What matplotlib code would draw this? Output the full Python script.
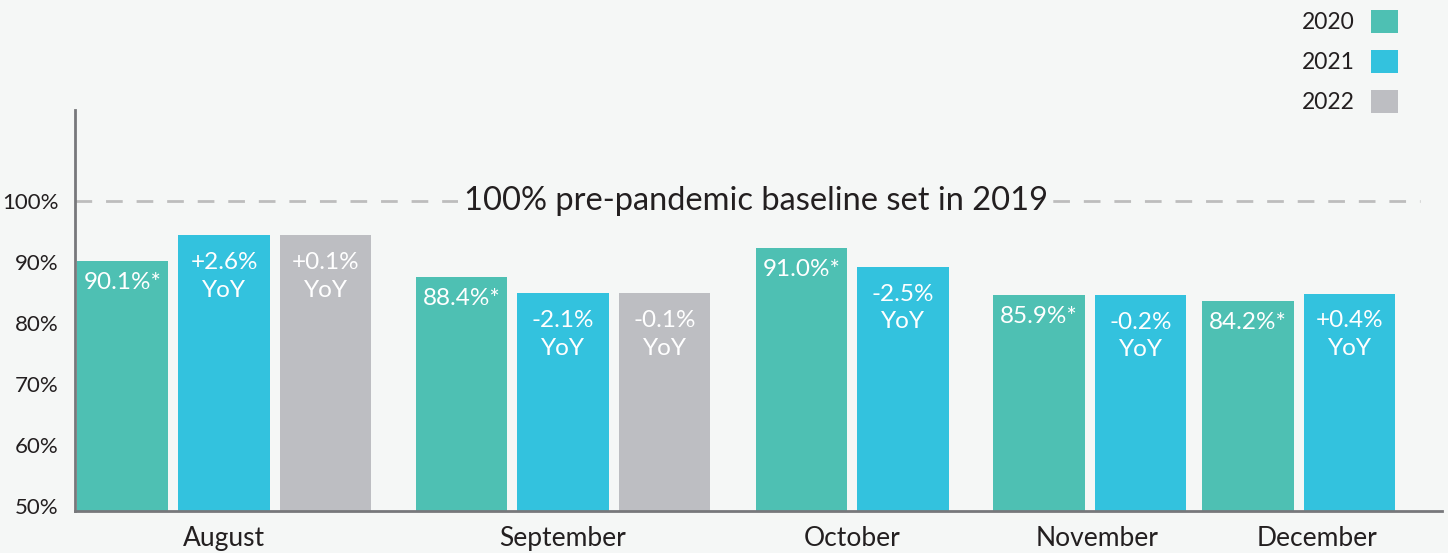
import matplotlib.pyplot as plt
from matplotlib.patches import Patch
import numpy as np

plt.rcParams['font.family'] = ['Lato', 'DejaVu Sans']

# Data
months = ["August", "September", "October", "November", "December"]
years = ["2020", "2021", "2022"]
vals_2020 = [90.1, 87.5, 92.3, 84.6, 83.6]
vals_2021 = [94.4, 84.9, 89.2, 84.6, 84.8]
vals_2022 = [94.4, 84.9, None, None, None]
labels_2020 = ["90.1%*", "88.4%*", "91.0%*", "85.9%*", "84.2%*"]
labels_2021 = ["+2.6%\nYoY", "-2.1%\nYoY", "-2.5%\nYoY", "-0.2%\nYoY", "+0.4%\nYoY"]
labels_2022 = ["+0.1%\nYoY", "-0.1%\nYoY", None, None, None]

colors = {"2020": "#4EC0B3", "2021": "#33C2DE", "2022": "#BDBEC2"}
bg = "#F5F7F6"
txt = "#231F20"

# layout: extra space before each month group
group_gap = [0, 0.34, 0.35, 0.34, 0.06]

fig = plt.figure(figsize=(14.48, 5.53), dpi=100, facecolor=bg)
ax = fig.add_axes([75 / 1448, 42 / 553, 1367 / 1448, 401 / 553])
ax.set_facecolor(bg)

base = 49.2
x = 0.0
centers = []
for i, m in enumerate(months):
    x += group_gap[i]
    series = [(vals_2020[i], labels_2020[i], "2020"),
              (vals_2021[i], labels_2021[i], "2021"),
              (vals_2022[i], labels_2022[i], "2022")]
    xs = []
    for v, lab, yr in series:
        if v is None:
            continue
        ax.bar(x, v - base, bottom=base, width=0.9, color=colors[yr], zorder=2)
        off = -8 if yr == "2020" else -12
        ax.annotate(lab, (x, v), xytext=(0, off), textcoords="offset points",
                    ha="center", va="top", color="white", fontsize=17.5,
                    linespacing=1.4, zorder=3)
        xs.append(x)
        x += 1
    centers.append(np.mean(xs))

# month labels (slightly shifted as in the original)
label_shift = [0, 0, 0, 0.07, 0.18]
ax.set_xticks([c + s for c, s in zip(centers, label_shift)])
ax.set_xticklabels(months, fontsize=19, color=txt)
ax.tick_params(axis="x", length=0, pad=11)

ax.set_ylim(base, 114.9)
ax.set_xlim(-0.468, 13.0)
ax.set_yticks([50, 60, 70, 80, 90, 100])
ax.set_yticklabels([f"{t}%" for t in range(50, 101, 10)], fontsize=16, color=txt)
ax.tick_params(axis="y", length=0, pad=12)

for s in ["top", "right"]:
    ax.spines[s].set_visible(False)
for s in ["left", "bottom"]:
    ax.spines[s].set_color("#77787B")
    ax.spines[s].set_linewidth(2)

# baseline reference line
ax.plot([-0.468, 12.78], [100, 100], color="#BDBDBD", lw=2, dashes=(6, 5),
        zorder=1, solid_capstyle="butt")
ax.text(6.24, 100, "100% pre-pandemic baseline set in 2019", ha="center",
        va="center", fontsize=23.5, color=txt, zorder=2,
        bbox=dict(facecolor=bg, edgecolor="none", pad=4))

handles = [Patch(facecolor=colors[y], edgecolor="none") for y in years]
fig.legend(handles, years, loc="upper right", bbox_to_anchor=(1419 / 1448, 1 + 11 / 553),
           frameon=False, markerfirst=False, fontsize=16.5, handlelength=1.2,
           handleheight=1.2, labelspacing=0.72, handletextpad=0.7,
           labelcolor=txt)

fig.savefig("out.png", dpi=100, facecolor=bg)
